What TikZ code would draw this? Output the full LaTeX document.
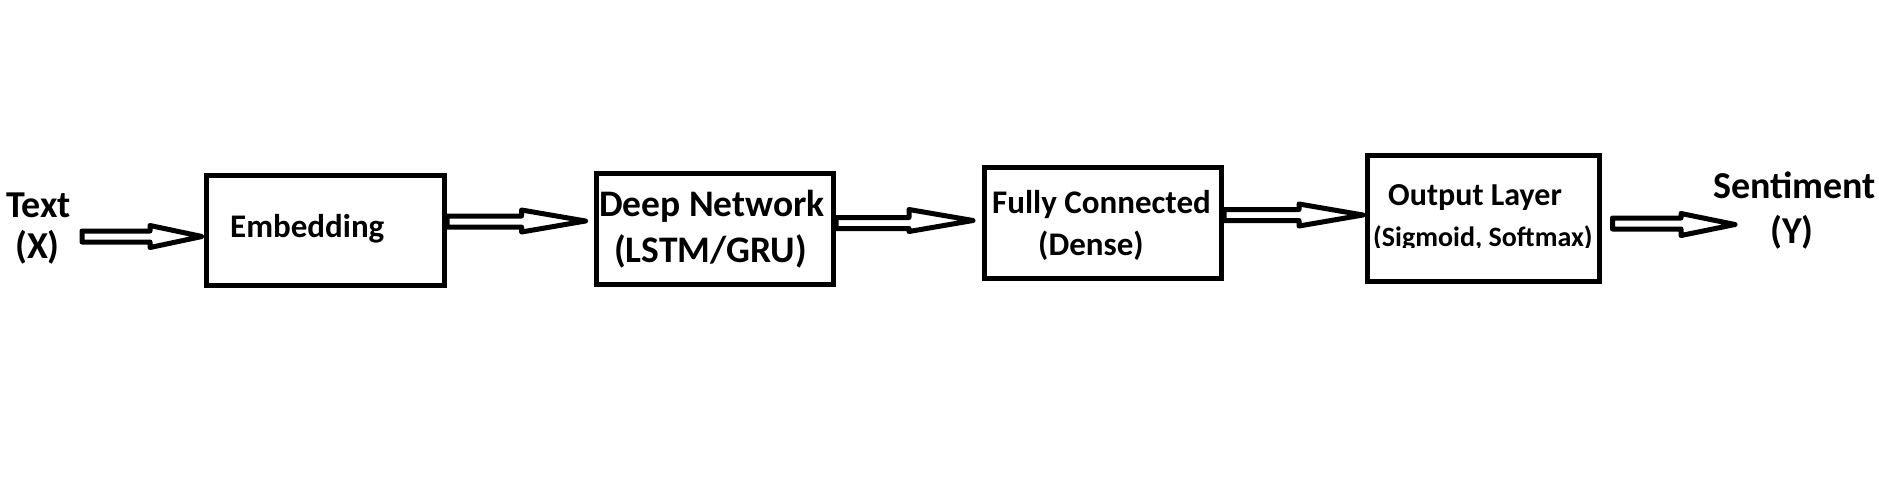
\documentclass[tikz,border=0pt]{standalone}
\usepackage{fontspec}
\setmainfont{Carlito}
\usetikzlibrary{calc}
\tikzset{
  blk/.style={draw, line width=5pt, inner sep=0pt, fill=white},
  lbl/.style={inner sep=0pt, anchor=base west, font=\bfseries\fontsize{#1}{#1}\selectfont},
  harrow/.style={draw, line width=5pt, fill=white, line join=round},
}
% #1 start, #2 tip, #3 head length
\newcommand\hollowarrow[3]{%
  \draw[harrow] let \p1=(#1), \p2=(#2) in
    (\x1,\y1+5.5pt) -- (\x2-#3,\y1+5.5pt) -- (\x2-#3,\y2+11pt) -- (\x2,\y2)
    -- (\x2-#3,\y2-11pt) -- (\x2-#3,\y1-5.5pt) -- (\x1,\y1-5.5pt) -- cycle;}
\begin{document}
\begin{tikzpicture}[x=1pt,y=-1pt]
\useasboundingbox[fill=white] (0,0) rectangle (1879,496);
% boxes
\node[blk, minimum width=238pt, minimum height=110pt] (emb) at (325.5,230.5) {};
\node[blk, minimum width=237.5pt, minimum height=111pt] (deep) at (714.8,229) {};
\node[blk, minimum width=237.3pt, minimum height=111pt] (fc) at (1102.9,223) {};
\node[blk, minimum width=232pt, minimum height=126pt] (out) at (1483.5,218.5) {};
% texts
\node[lbl=38] (tx1) at (6,217) {Text};
\node[lbl=38] (tx2) at (15,258) {(X)};
\node[lbl=33] (embt) at (230,237) {Embedding};
\node[lbl=37.5] (deept1) at (599,216) {Deep Network};
\node[lbl=37.5] (deept2) at (614,262) {(LSTM/GRU)};
\node[lbl=33] (fct1) at (992,213) {Fully Connected};
\node[lbl=33] (fct2) at (1038,255) {(Dense)};
\node[lbl=32] (outt1) at (1388,205) {Output Layer};
\begin{scope}
  \clip (1367,150) rectangle (1600,247);
  \node[lbl=28] (outt2) at (1373,246) {(Sigmoid, Softmax)};
\end{scope}
\node[lbl=38] (st1) at (1713,198) {Sentiment};
\node[lbl=38] (st2) at (1770,243) {(Y)};
% arrow ends
\coordinate (a1s) at (82,236.5);
\coordinate (a1e) at ($(emb.west)+(-2,6)$);
\coordinate (a2s) at ($(emb.east)+(0,-9)$);
\coordinate (a2e) at ($(deep.west)+(-8,-8)$);
\coordinate (a3s) at ($(deep.east)+(0,-6)$);
\coordinate (a3e) at (973,220.5);
\coordinate (a4s) at ($(fc.east)+(0,-8)$);
\coordinate (a4e) at ($(out.west)+(-2,-3.5)$);
\coordinate (a5s) at ($(out.east)+(10.5,5)$);
\coordinate (a5e) at (1735,224.5);
\hollowarrow{a1s}{a1e}{52pt}
\hollowarrow{a2s}{a2e}{64pt}
\hollowarrow{a3s}{a3e}{64pt}
\hollowarrow{a4s}{a4e}{64pt}
\hollowarrow{a5s}{a5e}{54pt}
\end{tikzpicture}
\end{document}
